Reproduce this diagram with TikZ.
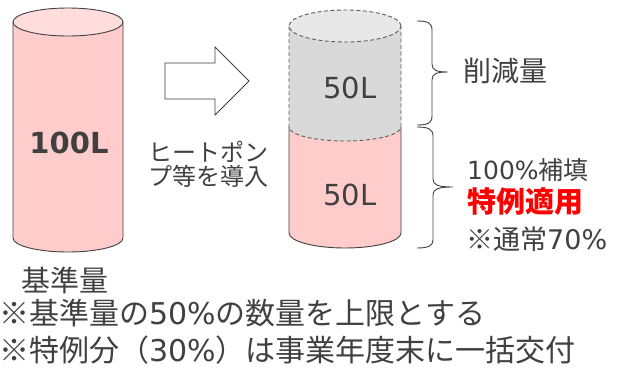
\documentclass[tikz,border=0pt]{standalone}
\usepackage{fontspec}
\setmainfont{Noto Sans CJK JP}
\newfontfamily\lat{DejaVu Sans}
\definecolor{txt}{HTML}{404040}
\definecolor{pinkfill}{HTML}{FFCCCC}
\definecolor{pinktop}{HTML}{FFDDDD}
\definecolor{grayfill}{HTML}{D9D9D9}
\definecolor{graytop}{HTML}{E8E8E8}
\definecolor{edge}{HTML}{404040}
\definecolor{redtxt}{HTML}{FF0000}
\newcommand\fs[1]{\fontsize{#1}{#1}\selectfont}
\newcommand\la[1]{{\lat #1}}
\begin{document}
\begin{tikzpicture}[x=1pt,y=-1pt,
  lbl/.style={inner sep=0pt, text=txt},
  outl/.style={draw=edge, line width=0.9pt},
  dsh/.style={draw=edge!85, line width=0.9pt, dash pattern=on 4pt off 2.5pt},
  brace/.style={draw=edge, line width=0.9pt},
  blockarrow/.style={draw=edge, line width=0.8pt, fill=white, line join=miter}]
\useasboundingbox (0,0) rectangle (624,372);

% ---- left cylinder (base amount)
\fill[pinkfill] (13,22) -- (13,238) arc[start angle=180,end angle=360,x radius=55pt,y radius=14pt] -- (123,22) -- cycle;
\draw[outl] (13,22) -- (13,238) arc[start angle=180,end angle=360,x radius=55pt,y radius=14pt] -- (123,22);
\filldraw[outl, fill=pinktop] (68,22) ellipse[x radius=55pt, y radius=14pt];
\node[lbl, anchor=base, font=\lat\bfseries\fs{29}] (base) at (69,153.6) {100L};

% ---- block arrow
\draw[blockarrow] (165,63) -- (215,63) -- (215,47) -- (249,81) -- (215,115) -- (215,99) -- (165,99) -- cycle;
\node[lbl, anchor=base west, font=\fs{24}, align=left] (hp1) at (148,161) {ヒートポン};
\node[lbl, anchor=base west, font=\fs{24}, align=left] (hp2) at (148,185) {プ等を導入};

% ---- right cylinder
\fill[grayfill] (289,26) -- (289,127) arc[start angle=180,end angle=360,x radius=56pt,y radius=14pt] -- (401,26) -- cycle;
\fill[pinkfill] (289,127) -- (289,233) arc[start angle=180,end angle=360,x radius=56pt,y radius=15pt] -- (401,127) arc[start angle=360,end angle=180,x radius=56pt,y radius=14pt] -- cycle;
\draw[outl] (289,127) -- (289,233) arc[start angle=180,end angle=360,x radius=56pt,y radius=15pt] -- (401,127);
\draw[dsh] (289,26) -- (289,127) arc[start angle=180,end angle=360,x radius=56pt,y radius=14pt] -- (401,26);
\filldraw[dsh, fill=graytop] (345,26) ellipse[x radius=56pt, y radius=16pt];
\node[lbl, anchor=base, font=\lat\fs{29}] (cut) at (350,98.6) {50L};
\node[lbl, anchor=base, font=\lat\fs{29}] (rest) at (350,205.6) {50L};

% ---- braces
\draw[brace] (417,21) .. controls (428,21) and (432,23) .. (432,30) -- (432,64)
  .. controls (432,70) and (436,72) .. (448,72)
  .. controls (436,72) and (432,74) .. (432,80) -- (432,116)
  .. controls (432,123) and (428,125) .. (417,125);
\draw[brace] (417,127) .. controls (428,127) and (433,129) .. (433,136) -- (433,179)
  .. controls (433,185) and (438,187) .. (453,187)
  .. controls (438,187) and (433,189) .. (433,195) -- (433,240)
  .. controls (433,246) and (428,248) .. (417,248);

% ---- right labels
\node[lbl, anchor=base west, font=\fs{28}] (red) at (463,81.5) {削減量};
\node[lbl, anchor=base west, font=\fs{25}] (comp) at (467,179) {\la{100\%}補填};
\node[lbl, anchor=base west, font=\bfseries\fs{29}, text=redtxt] (spec) at (467,212.7) {特例適用};
\node[lbl, anchor=base west, font=\fs{27}] (norm) at (466,249) {※通常\la{70\%}};

% ---- bottom labels
\node[lbl, anchor=base west, font=\fs{29}] (bl) at (21,291) {基準量};
\node[lbl, anchor=base west, font=\fs{30}] (n1) at (-1,324) {※基準量の\la{50\%}の数量を上限とする};
\node[lbl, anchor=base west, font=\fs{30}] (n2) at (-1,361) {※特例分（\la{30\%}）は事業年度末に一括交付};
\end{tikzpicture}
\end{document}
